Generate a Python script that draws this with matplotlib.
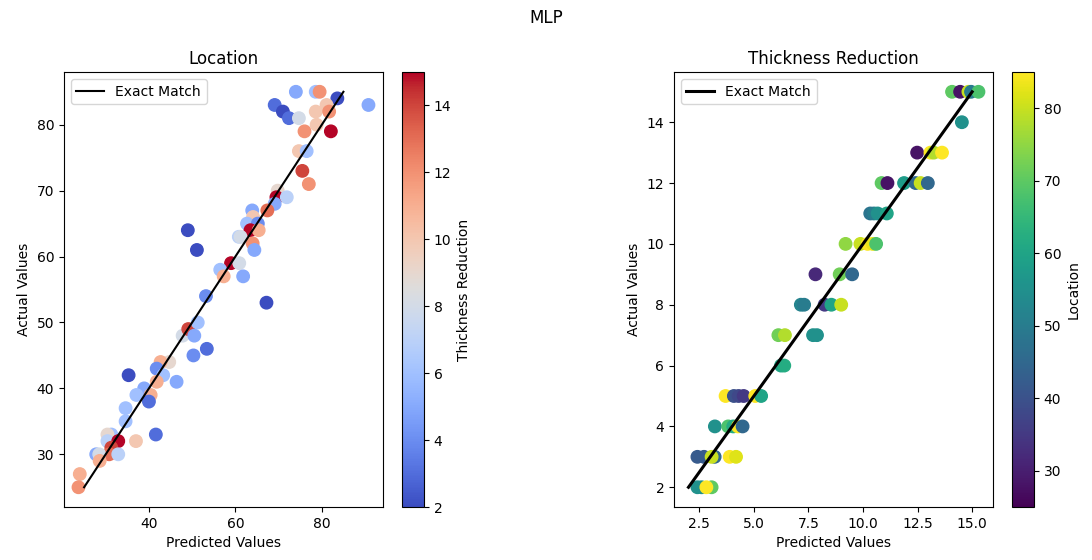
import matplotlib
matplotlib.use("Agg")
import matplotlib.pyplot as plt
import numpy as np

# Left panel: Location (predicted vs actual), coloured by Thickness Reduction
loc_pred = [74.0, 78.6, 79.5, 83.6, 90.8, 69.1, 71.0, 72.4, 74.7, 78.6, 81.1, 81.7, 78.8, 76.0, 82.1,
            74.7, 76.5, 75.5, 77.0, 69.8, 69.5, 71.9, 69.1, 67.4, 63.9, 64.1, 62.7, 65.2, 63.5, 65.4,
            60.8, 61.2, 64.0, 64.4, 49.0, 51.1, 59.0, 60.9, 56.5, 57.3, 61.8, 53.2, 67.2, 47.8, 49.1,
            51.3, 50.5, 53.4, 50.3, 44.7, 42.7, 41.8, 43.3, 35.3, 46.4, 41.8, 38.9, 37.1, 40.4, 40.0,
            34.6, 34.6, 41.6, 31.3, 30.4, 30.4, 32.9, 37.0, 31.3, 30.8, 27.8, 28.5, 32.9, 28.6, 24.0, 23.7]
loc_actual = [85, 85, 85, 84, 83, 83, 82, 81, 81, 82, 83, 82, 80, 79, 79,
              76, 76, 73, 71, 70, 69, 69, 68, 67, 67, 66, 65, 65, 64, 64,
              63, 63, 62, 61, 64, 61, 59, 59, 58, 57, 57, 54, 53, 48, 49,
              50, 48, 46, 45, 44, 44, 43, 42, 42, 41, 41, 40, 39, 39, 38,
              37, 35, 33, 33, 33, 32, 32, 32, 31, 30, 30, 30, 30, 29, 27, 25]
loc_color = [5, 6, 12, 2, 5, 3, 2, 3, 8, 10, 10, 12, 10, 12, 15,
             10, 6, 14, 12, 9, 15, 7, 5, 13, 5, 10, 6, 4, 15, 11,
             7, 8, 12, 5, 2, 2, 15, 8, 6, 11, 5, 4, 2, 8, 14,
             6, 5, 3, 4, 9, 11, 4, 6, 2, 5, 11, 5, 6, 11, 3,
             6, 6, 3, 6, 9, 7, 15, 10, 14, 13, 5, 8, 7, 11, 11, 12]

# Right panel: Thickness Reduction (predicted vs actual), coloured by Location
th_pred = [14.08, 14.45, 14.83, 14.95, 15.29,
           14.53,
           12.48, 13.09, 13.24, 13.62,
           10.85, 11.12, 11.88, 12.41, 12.64, 12.97,
           10.33, 10.50, 10.67, 11.09,
           9.20, 9.88, 10.21, 10.45, 10.60,
           7.82, 8.93, 9.50,
           7.15, 7.30, 8.24, 8.55, 9.00,
           6.12, 6.42, 7.71, 7.89,
           6.24, 6.39,
           3.70, 4.08, 4.30, 4.53, 5.06, 5.33,
           3.21, 3.82, 4.05, 4.27, 4.48,
           2.41, 2.71, 3.20, 3.06, 3.89, 4.18,
           2.41, 2.60, 3.06, 2.82]
th_actual = [15, 15, 15, 15, 15,
             14,
             13, 13, 13, 13,
             12, 12, 12, 12, 12, 12,
             11, 11, 11, 11,
             10, 10, 10, 10, 10,
             9, 9, 9,
             8, 8, 8, 8, 8,
             7, 7, 7, 7,
             6, 6,
             5, 5, 5, 5, 5, 5,
             4, 4, 4, 4, 4,
             3, 3, 3, 3, 3, 3,
             2, 2, 2, 2]
th_color = [70, 28, 80, 50, 68,
            55,
            28, 85, 78, 85,
            70, 28, 58, 45, 80, 45,
            48, 50, 55, 60,
            75, 80, 85, 83, 68,
            32, 72, 45,
            52, 50, 35, 60, 80,
            72, 78, 55, 55,
            60, 62,
            85, 40, 38, 35, 85, 60,
            55, 68, 62, 85, 45,
            42, 42, 45, 80, 85, 82,
            55, 55, 70, 85]

fig = plt.figure(figsize=(10.92, 5.6), dpi=100)
ax1 = fig.add_axes([0.0586, 0.0946, 0.2921, 0.7768])
cax1 = fig.add_axes([0.3681, 0.0946, 0.0201, 0.7768])
ax2 = fig.add_axes([0.6172, 0.0946, 0.2921, 0.7768])
cax2 = fig.add_axes([0.9267, 0.0946, 0.0201, 0.7768])

sc1 = ax1.scatter(loc_pred, loc_actual, c=loc_color, cmap='coolwarm', vmin=2, vmax=15, s=80)
ax1.plot([min(loc_actual), max(loc_actual)], [min(loc_actual), max(loc_actual)],
         color='black', lw=1.5, label='Exact Match')
ax1.set_title('Location', fontsize=12)
ax1.set_xlabel('Predicted Values')
ax1.set_ylabel('Actual Values')
ax1.legend(loc='upper left')
cb1 = fig.colorbar(sc1, cax=cax1)
cb1.set_label('Thickness Reduction')

sc2 = ax2.scatter(th_pred, th_actual, c=th_color, cmap='viridis', vmin=25, vmax=85, s=80)
ax2.plot([min(th_actual), max(th_actual)], [min(th_actual), max(th_actual)],
         color='black', lw=2.2, label='Exact Match')
ax2.set_title('Thickness Reduction', fontsize=12)
ax2.set_xlabel('Predicted Values')
ax2.set_ylabel('Actual Values')
ax2.legend(loc='upper left')
cb2 = fig.colorbar(sc2, cax=cax2)
cb2.set_label('Location')

fig.suptitle('MLP', y=0.984, fontsize=12)
fig.savefig('out.png', dpi=100)
